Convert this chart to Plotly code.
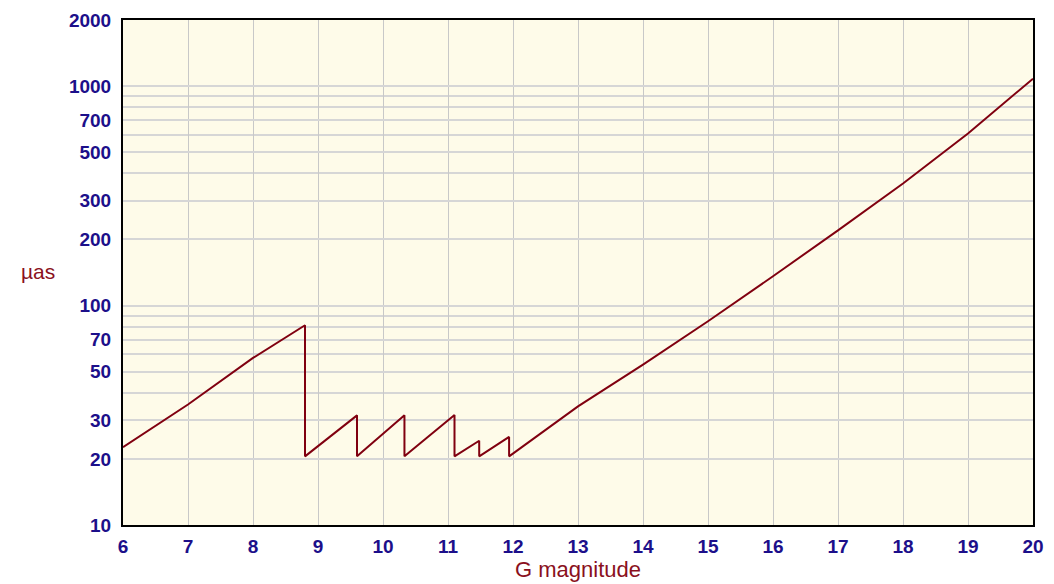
import plotly.graph_objects as go

# G magnitude vs parallax error (micro-arcsec)
g_mag = [6, 7, 8, 8.8, 8.8, 9.6, 9.6, 10.33, 10.33, 11.1, 11.1, 11.48, 11.48,
         11.94, 11.94, 13, 14, 15, 16, 17, 18, 19, 20]
sigma_uas = [22.6, 35.4, 57.7, 81.3, 20.55, 31.6, 20.55, 31.6, 20.55, 31.7, 20.55,
             24.2, 20.55, 25.2, 20.55, 34.7, 53.8, 84.8, 136, 220, 360, 608, 1081]

x_ticks = list(range(6, 21))
y_ticks = [10, 20, 30, 50, 70, 100, 200, 300, 500, 700, 1000, 2000]
y_grid = [40, 60, 80, 90, 400, 600, 800, 900]

label_blue = "#1c0f8a"
dark_red = "#8a1020"

fig = go.Figure()
fig.add_trace(go.Scatter(
    x=g_mag, y=sigma_uas, mode="lines",
    line=dict(color="#800010", width=2),
    showlegend=False, hoverinfo="x+y"
))

# page body has an 8px margin, so the figure is trimmed to fit
fig.update_layout(
    width=1046, height=576,
    margin=dict(l=115, r=21, t=12, b=59, autoexpand=False),
    paper_bgcolor="white",
    plot_bgcolor="#fefbe9",
    font=dict(family="Liberation Sans, Arial, sans-serif"),
)

fig.update_xaxes(
    range=[6, 20], tickvals=x_ticks, ticks="",
    showgrid=True, gridcolor="#c8c8c8", gridwidth=1,
    showline=True, linecolor="black", linewidth=2, mirror=True,
    tickfont=dict(size=19, color=label_blue, weight="bold"),
    ticklabelstandoff=3,
    title=dict(text="G magnitude", font=dict(size=22, color=dark_red), standoff=2),
    zeroline=False,
)

fig.update_yaxes(
    type="log", range=[1, 3.30103], tickvals=y_ticks, ticks="",
    showgrid=True, gridcolor="#d6d6d6", gridwidth=1.5,
    minor=dict(tickvals=y_grid, showgrid=True, gridcolor="#d6d6d6", gridwidth=1.5, ticks=""),
    showline=True, linecolor="black", linewidth=2, mirror=True,
    tickfont=dict(size=19, color=label_blue, weight="bold"),
    ticklabelstandoff=6,
    zeroline=False,
)

fig.add_annotation(
    text="\u00b5as", xref="paper", yref="paper", x=-0.0934, y=0.501,
    xanchor="center", yanchor="middle", showarrow=False,
    font=dict(size=21, color=dark_red),
)

fig.write_html("out.html")
